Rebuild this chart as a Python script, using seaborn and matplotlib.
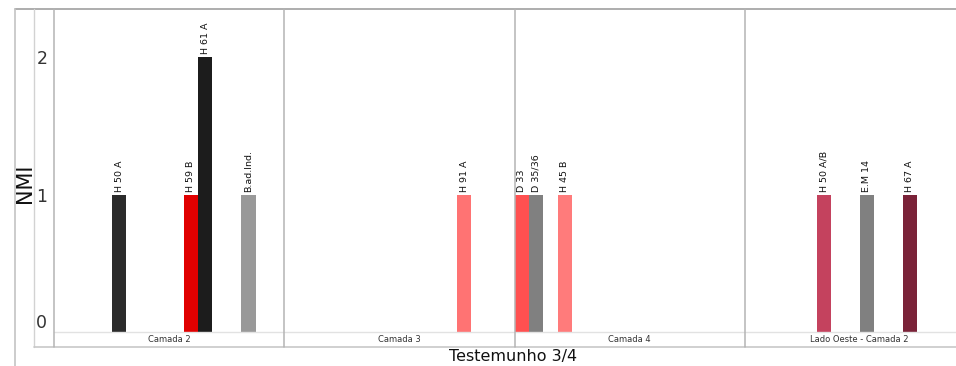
import numpy as np
import pandas as pd
import matplotlib.pyplot as plt
import seaborn as sns
from matplotlib.lines import Line2D

# Data
groups = ["Camada 2", "Camada 3", "Camada 4", "Lado Oeste - Camada 2"]
labels = ["H 50 A", "H 59 B", "H 61 A", "B.ad.Ind.", "H 91 A",
          "D 33", "D 35/36", "H 45 B", "H 50 A/B", "E.M 14", "H 67 A"]
label_group = (["Camada 2"] * 4 + ["Camada 3"] + ["Camada 4"] * 3
               + ["Lado Oeste - Camada 2"] * 3)
nmi = [1, 1, 2, 1, 1, 1, 1, 1, 1, 1, 1]

# layout: slot of each bar inside its group (16 slots per group) and colours
slots = [4, 9, 10, 13, 12, 0, 1, 3, 5, 8, 11]
colors = ["#2b2b2b", "#e00000", "#1c1c1c", "#999999", "#ff7373",
          "#ff5050", "#808080", "#ff7b7b", "#c4425e", "#808080", "#7a2238"]
n_slots = 16

df = pd.DataFrame({"label": labels, "group": label_group, "NMI": nmi})
df["pos"] = [groups.index(g) * n_slots + s + 0.5 for g, s in zip(label_group, slots)]

W, H = 956, 366
fig = plt.figure(figsize=(W / 100, H / 100), dpi=100)
sns.set_style("white")
plt.rcParams["font.family"] = ["DejaVu Sans"]

def fx(px):
    return px / W

def fy(py):
    return 1 - py / H

x0, x1 = 54.3, 956
y_top, y_base, y_strip = 9, 332.3, 347
slot_px = 230.1 / n_slots

ax = fig.add_axes([fx(x0), fy(y_base), fx(x1) - fx(x0), fy(y_top) - fy(y_base)])
sns.barplot(data=df, x="pos", y="NMI", hue="label",
            palette=dict(zip(labels, colors)), native_scale=True,
            width=1, saturation=1, errorbar=None, legend=False,
            linewidth=0, ax=ax)

ax.set_xlim(0, (x1 - x0) / slot_px)
ax.set_ylim(0, (y_base - y_top) / 137.7)
ax.set_xticks([])
ax.set_yticks([0, 1, 2])
ax.set_yticklabels(["0", "1", "2"], fontsize=12.5, color="#333333")
ax.tick_params(axis="y", length=0, pad=5)
ax.get_yticklabels()[0].set_verticalalignment("bottom")
ax.set_xlabel("")
ax.set_ylabel("")
for s in ax.spines.values():
    s.set_visible(False)

# labels over bars
for _, r in df.iterrows():
    ax.annotate(r["label"], (r["pos"], r["NMI"]), xytext=(0, 2),
                textcoords="offset points", rotation=90,
                ha="center", va="bottom", fontsize=6.8, color="#111111")

# frame and panel lines
def hline(y, xa, xb, c, lw=1):
    fig.add_artist(Line2D([fx(xa), fx(xb)], [fy(y), fy(y)], color=c, lw=lw))

def vline(x, ya, yb, c, lw=1):
    fig.add_artist(Line2D([fx(x), fx(x)], [fy(ya), fy(yb)], color=c, lw=lw))

hline(y_top, 15, W, "#a0a0a0", 1.2)
vline(15, y_top, H, "#c4c4c4", 1.2)
vline(34, y_top, y_strip, "#d2d2d2")
hline(y_strip, 34, W, "#c8c8c8", 1.2)
hline(y_base, 54.3, W, "#e2e2e2")
for i in range(len(groups)):
    xb = x0 + i * 230.1
    vline(xb, y_top, y_strip, "#b4b4b4", 1.1)
    fig.text(fx(xb + 115), fy(339.8), groups[i], ha="center", va="center",
             fontsize=6, color="#333333")

fig.text(fx(25), fy(183), "NMI", rotation=90, ha="center", va="center",
         fontsize=15, color="#111111")
fig.text(fx(513), fy(356.5), "Testemunho 3/4", ha="center", va="center",
         fontsize=11.5, color="#111111")

fig.savefig("out.png", dpi=100)
